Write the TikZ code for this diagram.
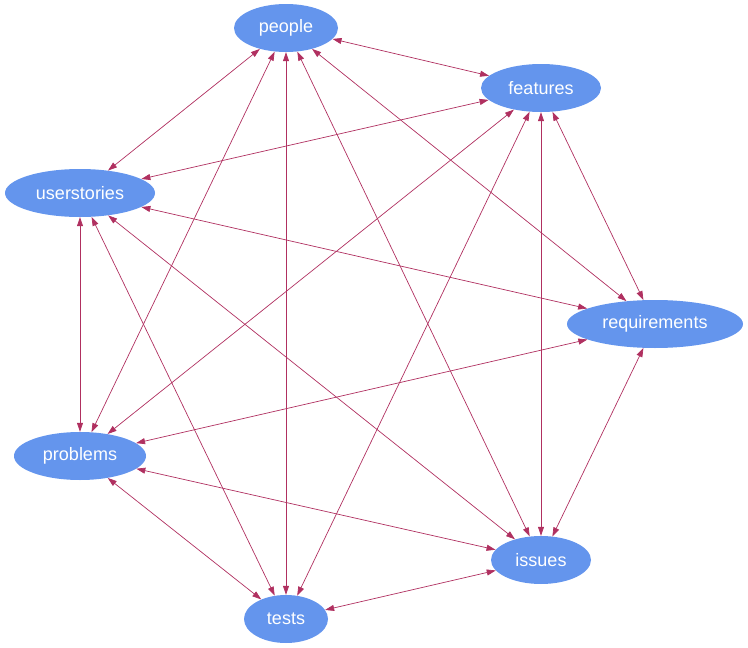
\documentclass[tikz,border=0pt]{standalone}
\usepackage{fontspec}
\setmainfont{Liberation Sans}
\usetikzlibrary{shapes.geometric,arrows.meta}
\definecolor{nodeblue}{HTML}{6495ED}
\definecolor{linkred}{HTML}{B03060}
\tikzset{
  topic/.style={ellipse, fill=nodeblue, text=white, inner sep=0pt, minimum height=48pt, font=\fontsize{18}{20}\selectfont},
  link/.style={linkred, line width=0.7pt, {Triangle[length=9pt,width=6pt]}-{Triangle[length=9pt,width=6pt]}}
}
\begin{document}
\begin{tikzpicture}[x=1pt, y=-1pt]
\useasboundingbox (0,0) rectangle (748,648);
\node[topic, minimum width=104pt] (pe) at (286,28) {people};
\node[topic, minimum width=120pt] (fe) at (541,88) {features};
\node[topic, minimum width=150pt] (us) at (80,193) {userstories};
\node[topic, minimum width=176pt] (re) at (655,324) {requirements};
\node[topic, minimum width=132pt] (pr) at (80,456) {problems};
\node[topic, minimum width=100pt] (is) at (541,560) {issues};
\node[topic, minimum width=84pt] (te) at (286,619) {tests};
\draw[link] (pe) -- (fe);
\draw[link] (pe) -- (us);
\draw[link] (pe) -- (pr);
\draw[link] (pe) -- (te);
\draw[link] (pe) -- (is);
\draw[link] (pe) -- (re);
\draw[link] (fe) -- (us);
\draw[link] (fe) -- (pr);
\draw[link] (fe) -- (te);
\draw[link] (fe) -- (is);
\draw[link] (fe) -- (re);
\draw[link] (us) -- (pr);
\draw[link] (us) -- (te);
\draw[link] (us) -- (is);
\draw[link] (us) -- (re);
\draw[link] (re) -- (pr);
\draw[link] (re) -- (is);
\draw[link] (pr) -- (is);
\draw[link] (pr) -- (te);
\draw[link] (is) -- (te);
\end{tikzpicture}
\end{document}
